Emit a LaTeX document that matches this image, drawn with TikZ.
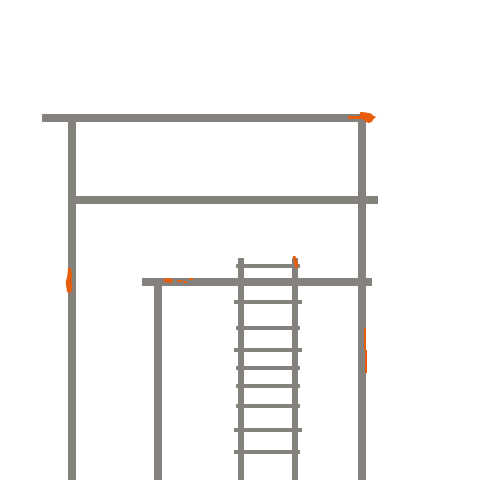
\documentclass[tikz,border=0pt]{standalone}
\definecolor{beamgrey}{HTML}{85817C}
\definecolor{markorange}{HTML}{E85D0C}
\tikzset{
  bar/.style={fill=beamgrey,draw=none},
  mark stroke/.style={fill=markorange,draw=none}
}
\begin{document}
\begin{tikzpicture}[x=1pt,y=-1pt]
\useasboundingbox (0,0) rectangle (480,480);
\fill[white] (0,0) rectangle (480,480);
% frame
\fill[bar] (42,114) rectangle (366,122);
\fill[bar] (358,114) rectangle (366,480);
\fill[bar] (68,118) rectangle (76,480);
\fill[bar] (72,196) rectangle (378,204);
\fill[bar] (142,278) rectangle (372,286);
\fill[bar] (154,282) rectangle (162,480);
% ladder
\fill[bar] (238,258) rectangle (244,480);
\fill[bar] (292,258) rectangle (298,480);
\foreach \ya/\xa/\xb in {264/236/300,300/234/302,326/236/300,348/234/302,366/236/300,384/236/300,404/236/300,428/234/302,450/234/300}
  \fill[bar] (\xa,\ya) rectangle (\xb,\ya+4);
% orange marks
\fill[mark stroke] (348,115.8) rectangle (362,119);
\fill[mark stroke] (359.5,114) -- (360.5,112) -- (366,112.5) -- (371,113.5) -- (373,115.5) -- (376,117) -- (373.5,119) -- (372,121.5) -- (369,123) -- (366,122) -- (363,119) -- (359.5,118) -- cycle;
\fill[mark stroke] (68,268) -- (71,268) -- (72,275) -- (71.5,282) -- (72.5,288) -- (70.5,293) -- (67,292) -- (65.8,282) -- (67.3,276) -- cycle;
\fill[mark stroke] (164,278.3) -- (172,278.3) -- (172.5,283) -- (164,282) -- cycle;
\fill[mark stroke] (177,279.8) rectangle (182,281.8);
\fill[mark stroke] (183,280.8) rectangle (187,283.2);
\fill[mark stroke] (189,278) rectangle (192.5,280.2);
\fill[mark stroke] (292.8,256) -- (295.2,256) -- (297.3,261) -- (298.3,267) -- (295.5,268.3) -- (293.8,262) -- cycle;
\fill[mark stroke] (364,328) rectangle (366.3,350);
\fill[mark stroke] (365.2,350) rectangle (367.2,372.5);
\end{tikzpicture}
\end{document}
